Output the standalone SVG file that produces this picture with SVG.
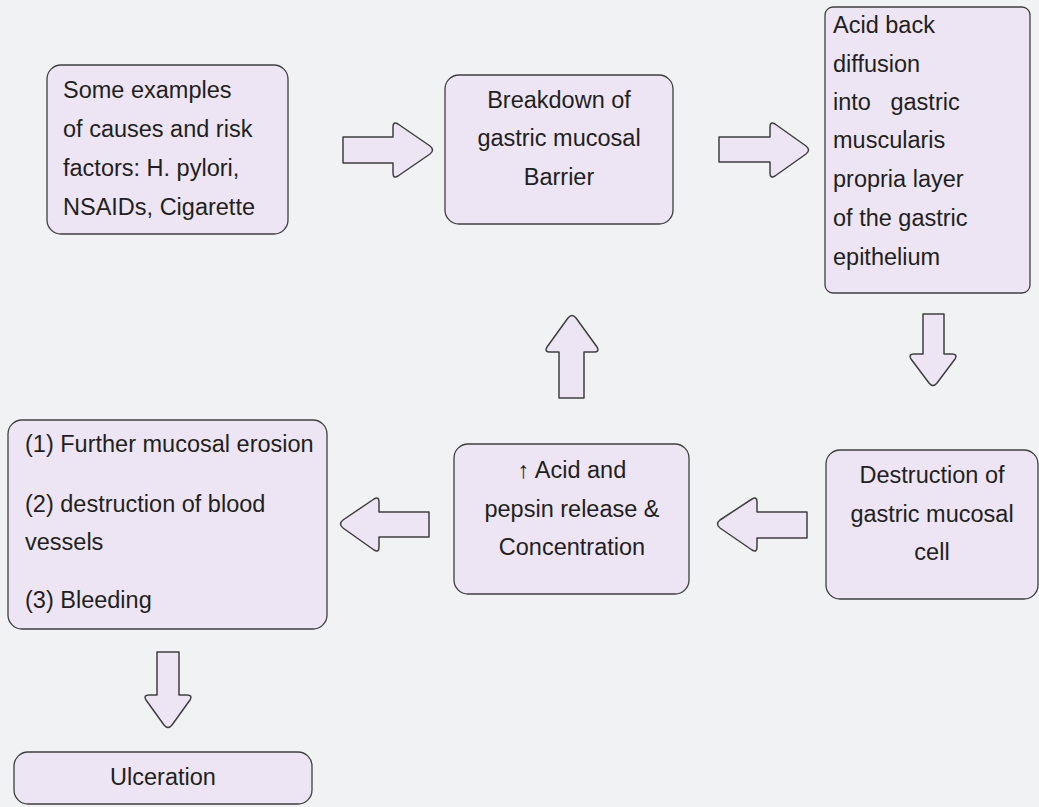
<svg xmlns="http://www.w3.org/2000/svg" width="1039" height="807" viewBox="0 0 1039 807">
<style>
.bg{fill:#f1f2f4}
.box{fill:#ede5f4;stroke:#3f3f3f;stroke-width:1.3}
.arr{fill:#ede5f4;stroke:#3f3f3f;stroke-width:1.5;stroke-linejoin:round}
text{font-family:"Liberation Sans",Arial,sans-serif;font-size:23.5px;fill:#231f20}
.c{text-anchor:middle}
</style>
<rect class="bg" x="0" y="0" width="1039" height="807"/>
<g id="connectors">
<path class="arr" d="M343,137 H393 V127 Q393,121 398,124 L430,146 Q435,150 430,154 L398,176 Q393,179 393,173 V163 H343 Z"/>
<path class="arr" d="M719,137 H770 V127 Q770,121 775,124 L806,146 Q811,150 806,154 L775,176 Q770,179 770,173 V162 H719 Z"/>
<path class="arr" d="M923,314 H944 V354 H952 Q958,354 955,359 L937,383 Q933,388 929,383 L911,359 Q908,354 914,354 H923 Z"/>
<path class="arr" d="M807,512 H757 V502 Q757,496 752,499 L720,520 Q715,524 720,528 L752,550 Q757,553 757,547 V538 H807 Z"/>
<path class="arr" d="M559,398 V352 H550 Q544,352 547,347 L568,318 Q572,313 576,318 L597,347 Q600,352 594,352 H584 V398 Z"/>
<path class="arr" d="M429,512 H379 V502 Q379,496 374,499 L343,520 Q338,524 343,528 L374,550 Q379,553 379,547 V537 H429 Z"/>
<path class="arr" d="M157,652 H179 V695 H187 Q193,695 190,700 L172,725 Q168,730 164,725 L146,700 Q143,695 149,695 H157 Z"/>
</g>
<g id="n1">
<rect class="box" x="47" y="65" width="241" height="169" rx="14"/>
<text x="63" y="98">Some examples</text>
<text x="63" y="137">of causes and risk</text>
<text x="63" y="176">factors: H. pylori,</text>
<text x="63" y="215">NSAIDs, Cigarette</text>
</g>
<g id="n2">
<rect class="box" x="445" y="75" width="228" height="149" rx="14"/>
<text class="c" x="559" y="108">Breakdown of</text>
<text class="c" x="559" y="146">gastric mucosal</text>
<text class="c" x="559" y="185">Barrier</text>
</g>
<g id="n3">
<rect class="box" x="825" y="7" width="205" height="286" rx="8"/>
<text x="833" y="33">Acid back</text>
<text x="833" y="72">diffusion</text>
<text x="833" y="110" xml:space="preserve">into   gastric</text>
<text x="833" y="148">muscularis</text>
<text x="833" y="187">propria layer</text>
<text x="833" y="226">of the gastric</text>
<text x="833" y="265">epithelium</text>
</g>
<g id="n4">
<rect class="box" x="826" y="450" width="212" height="149" rx="14"/>
<text class="c" x="932" y="483">Destruction of</text>
<text class="c" x="932" y="522">gastric mucosal</text>
<text class="c" x="932" y="560">cell</text>
</g>
<g id="n5">
<rect class="box" x="454" y="444" width="235" height="150" rx="14"/>
<text class="c" x="572" y="478">↑ Acid and</text>
<text class="c" x="572" y="517">pepsin release &amp;</text>
<text class="c" x="572" y="555">Concentration</text>
</g>
<g id="n6">
<rect class="box" x="8" y="420" width="319" height="209" rx="14"/>
<text x="25" y="452">(1) Further mucosal erosion</text>
<text x="25" y="512">(2) destruction of blood</text>
<text x="25" y="550">vessels</text>
<text x="25" y="608">(3) Bleeding</text>
</g>
<g id="n7">
<rect class="box" x="14" y="752" width="298" height="52" rx="14"/>
<text class="c" x="163" y="785">Ulceration</text>
</g>
</svg>
